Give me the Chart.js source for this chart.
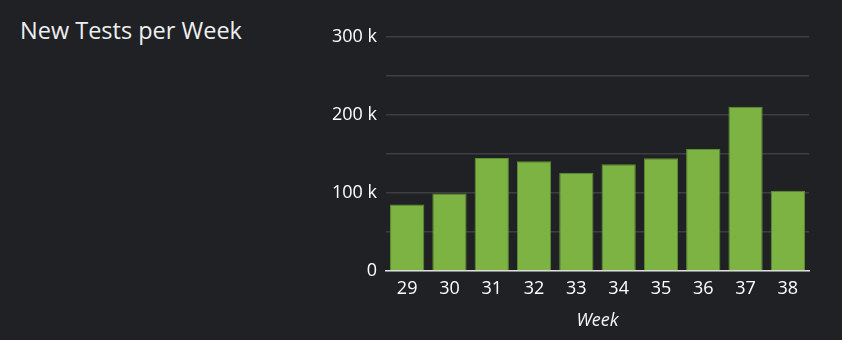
<!DOCTYPE html>
<html>
<head>
<meta charset="utf-8">
<script src="https://cdn.jsdelivr.net/npm/chart.js@4"></script>
<style>
  html, body { margin: 0; padding: 0; background: #202124; }
  #wrap { position: relative; width: 842px; height: 340px; }
  #title {
    position: absolute; left: 20px; top: 14px;
    font-family: "Open Sans", sans-serif; font-size: 23.5px;
    color: #eeeff1; white-space: nowrap;
  }
  canvas { position: absolute; left: 0; top: 0; }
</style>
</head>
<body>
<div id="wrap">
  <div id="title">New Tests per Week</div>
  <canvas id="testsChart" width="842" height="340"></canvas>
</div>
<script>
const weeks = ['29', '30', '31', '32', '33', '34', '35', '36', '37', '38'];
const newTests = [85400, 99200, 144800, 140600, 126000, 136700, 144500, 156400, 210700, 103000];
const yTicks = [0, 100000, 200000, 300000];

Chart.defaults.font.family = '"Open Sans", sans-serif';
Chart.defaults.color = '#f4f4f4';

const ctx = document.getElementById('testsChart').getContext('2d');
new Chart(ctx, {
    type: 'bar',
    data: {
        labels: weeks,
        datasets: [{
            label: 'New Tests',
            data: newTests,
            backgroundColor: '#7cb342',
            borderColor: '#5f8f33',
            borderWidth: 1,
            barPercentage: 0.9,
            categoryPercentage: 0.9
        }]
    },
    options: {
        responsive: false,
        animation: false,
        layout: { padding: { top: 37, right: 33, bottom: 0 } },
        plugins: {
            legend: { display: false },
            tooltip: { enabled: false }
        },
        scales: {
            x: {
                afterFit: scale => { scale.height = 69; },
                grid: { display: false, drawTicks: false },
                border: { color: '#e0e0e0', width: 1.5 },
                ticks: { font: { size: 18 }, color: '#ffffff', padding: 7 },
                title: {
                    display: true,
                    text: 'Week',
                    font: { size: 18, style: 'italic' },
                    color: '#f4f4f4',
                    padding: { top: 4, bottom: 8 }
                }
            },
            y: {
                min: 0,
                max: 300000,
                afterFit: scale => { scale.width = 386; },
                border: { display: false },
                grid: { color: '#3c3e42', lineWidth: 1.5, drawTicks: false },
                ticks: {
                    stepSize: 50000,
                    padding: 9,
                    font: { size: 18 },
                    color: '#ffffff',
                    callback: v => yTicks.includes(v) ? (v === 0 ? '0' : (v / 1000) + ' k') : ''
                }
            }
        }
    }
});
</script>
</body>
</html>
